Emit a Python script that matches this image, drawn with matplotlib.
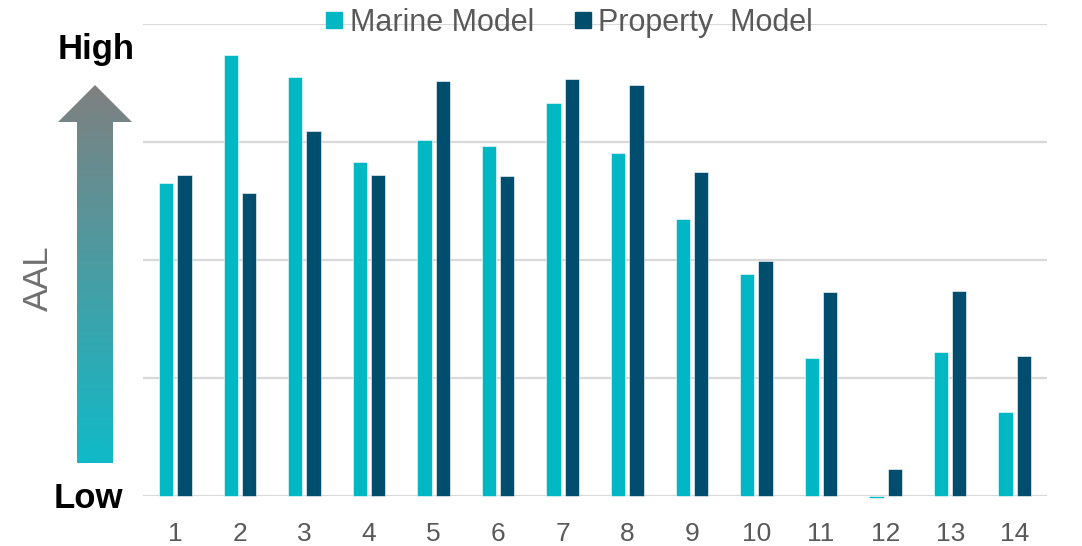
import numpy as np
import matplotlib.pyplot as plt
from matplotlib.lines import Line2D
from matplotlib.patches import Polygon

plt.rcParams['font.family'] = ['Liberation Sans', 'DejaVu Sans']

categories = ['1', '2', '3', '4', '5', '6', '7', '8', '9', '10', '11', '12', '13', '14']
marine = [2.65, 3.74, 3.55, 2.83, 3.02, 2.97, 3.33, 2.91, 2.35, 1.88, 1.17, -0.02, 1.22, 0.71]
property_ = [2.72, 2.57, 3.09, 2.72, 3.52, 2.71, 3.53, 3.48, 2.75, 1.99, 1.73, 0.23, 1.74, 1.19]
series_names = ['Marine Model', 'Property  Model']

c_marine = '#00B7C4'
c_property = '#004D6E'
grid_c = '#D9D9D9'
text_gray = '#595959'

W, H = 1082, 546
fig = plt.figure(figsize=(W / 100, H / 100), dpi=100)

# main bar axes
ax = fig.add_axes([143 / W, 1 - 496 / H, 904 / W, 472 / H])
x = np.arange(len(categories))
bw = 0.22
off = 0.142
ax.bar(x - off, marine, width=bw, color=c_marine, edgecolor='white', linewidth=0.4,
       clip_on=False, zorder=3)
ax.bar(x + off, property_, width=bw, color=c_property, edgecolor='white', linewidth=0.4,
       clip_on=False, zorder=3)
ax.set_xlim(-0.5, len(categories) - 0.5)
ax.set_ylim(0, 4)
ax.set_yticks([0, 1, 2, 3, 4])
ax.yaxis.grid(True, color=grid_c, linewidth=1.6, zorder=0)
ax.set_axisbelow(True)
ax.tick_params(axis='y', left=False, labelleft=False)
ax.set_xticks(x)
ax.set_xticklabels(categories, fontsize=19, color=text_gray)
ax.tick_params(axis='x', length=0, pad=19)
for s in ax.spines.values():
    s.set_visible(False)

handles = [Line2D([], [], marker='s', linestyle='none', markersize=11.5, color=c)
           for c in (c_marine, c_property)]
ax.legend(handles, series_names, loc='center', bbox_to_anchor=(566 / W, 1 - 23 / H),
          bbox_transform=fig.transFigure, ncol=2, frameon=False, fontsize=22,
          labelcolor=text_gray, handletextpad=0.0, columnspacing=1.1,
          handlelength=1.0, borderaxespad=0)

# overlay in pixel coordinates for the gradient arrow and labels
ov = fig.add_axes([0, 0, 1, 1], zorder=5)
ov.set_xlim(0, W)
ov.set_ylim(H, 0)
ov.axis('off')
ov.patch.set_visible(False)

arrow_pts = [(95, 85), (132, 122), (113, 122), (113, 463),
             (77, 463), (77, 122), (58, 122)]
arrow = Polygon(arrow_pts, closed=True, facecolor='none', edgecolor='none')
ov.add_patch(arrow)
top_rgb = np.array([0x80, 0x80, 0x80]) / 255
bot_rgb = np.array([0x10, 0xBA, 0xC8]) / 255
t = np.linspace(0, 1, 256)[:, None]
grad = (top_rgb[None, :] * (1 - t) + bot_rgb[None, :] * t)[:, None, :]
im = ov.imshow(grad, extent=(58, 132, 463, 85), aspect='auto', interpolation='bilinear')
im.set_clip_path(arrow)
ov.set_xlim(0, W)
ov.set_ylim(H, 0)

ov.text(96, 49, 'High', fontsize=25, fontweight='bold', color='black',
        ha='center', va='center')
ov.text(88, 499, 'Low', fontsize=25, fontweight='bold', color='black',
        ha='center', va='center')
ov.text(38, 278, 'AAL', fontsize=25, color='#707070', rotation=90,
        ha='center', va='center')

fig.savefig('out.png', dpi=100)
